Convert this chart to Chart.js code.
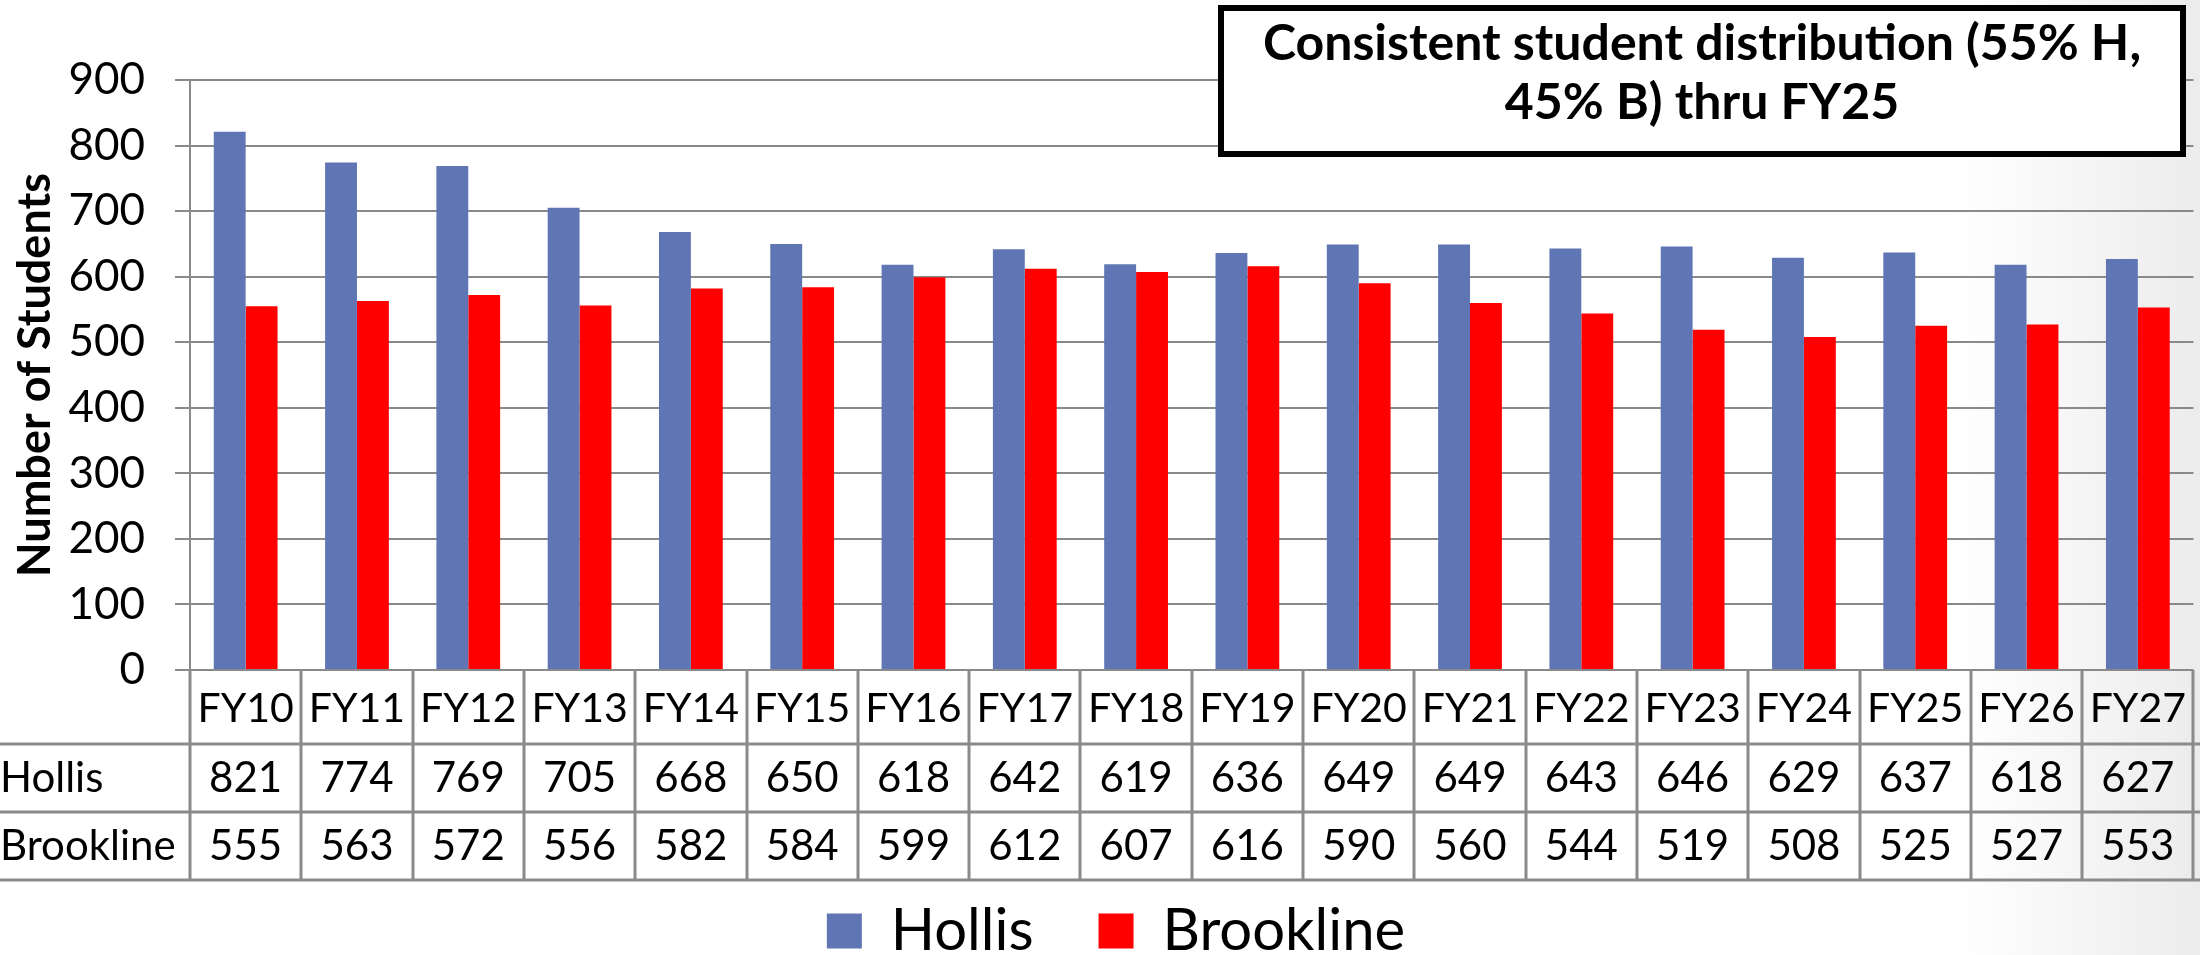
<!DOCTYPE html>
<html>
<head>
<meta charset="utf-8">
<title>Student distribution FY10–FY27</title>
<script src="https://cdn.jsdelivr.net/npm/chart.js@4.4.1/dist/chart.umd.min.js"></script>
<style>
  html, body { margin: 0; padding: 0; }
  body {
    width: 2200px; height: 955px; overflow: hidden; position: relative;
    background: linear-gradient(to right, #ffffff 0%, #ffffff 89%, #ececec 100%);
  }
  #chart { position: absolute; left: 0; top: 0; }
  #note {
    position: absolute; left: 1218px; top: 5px; width: 968px; height: 152px;
    box-sizing: border-box; border: 6px solid #000; background: #fff; color: #000;
    padding-bottom: 20px;
    font-family: Lato, "Open Sans", sans-serif; font-weight: 700; font-size: 50px; line-height: 59px;
    display: flex; align-items: center; justify-content: center; text-align: center;
  }
</style>
</head>
<body>
<canvas id="chart" width="2200" height="955"></canvas>
<div id="note">Consistent student distribution (55% H,<br>45% B) thru FY25</div>
<script>
// Enrollment by fiscal year
const categories = ['FY10', 'FY11', 'FY12', 'FY13', 'FY14', 'FY15', 'FY16', 'FY17', 'FY18',
                    'FY19', 'FY20', 'FY21', 'FY22', 'FY23', 'FY24', 'FY25', 'FY26', 'FY27'];
const hollis    = [821, 774, 769, 705, 668, 650, 618, 642, 619, 636, 649, 649, 643, 646, 629, 637, 618, 627];
const brookline = [555, 563, 572, 556, 582, 584, 599, 612, 607, 616, 590, 560, 544, 519, 508, 525, 527, 553];
const seriesNames = ['Hollis', 'Brookline'];
const yMin = 0, yMax = 900, yStep = 100;

const FONT = 'Lato, "Open Sans", sans-serif';
const GRID = '#8a8a8a';

// Data table under the category axis: one column per category, one row per series
const dataTable = {
  id: 'dataTable',
  afterDraw(chart) {
    const { ctx, chartArea, scales: { x } } = chart;
    const n = categories.length;
    const step = (x.right - x.left) / n;
    const rowHeights = [74, 68, 68];
    const ys = [chartArea.bottom];
    rowHeights.forEach(h => ys.push(ys[ys.length - 1] + h));
    const rows = [hollis, brookline];

    ctx.save();
    ctx.strokeStyle = GRID;
    ctx.lineWidth = 3;
    ctx.beginPath();
    for (let r = 1; r < ys.length; r++) {
      ctx.moveTo(0, ys[r]);
      ctx.lineTo(chart.width, ys[r]);
    }
    for (let k = 0; k <= n; k++) {
      const px = Math.round(x.left + k * step);
      ctx.moveTo(px, ys[0]);
      ctx.lineTo(px, ys[ys.length - 1]);
    }
    ctx.stroke();

    ctx.fillStyle = '#000';
    ctx.font = '42px ' + FONT;
    ctx.textBaseline = 'middle';
    rows.forEach((vals, r) => {
      const cy = (ys[r + 1] + ys[r + 2]) / 2;
      ctx.textAlign = 'left';
      ctx.fillText(seriesNames[r], 0, cy);
      ctx.textAlign = 'center';
      vals.forEach((v, i) => ctx.fillText(String(v), x.getPixelForValue(i), cy));
    });
    ctx.restore();
  }
};

new Chart(document.getElementById('chart'), {
  type: 'bar',
  data: {
    labels: categories,
    datasets: [
      { label: seriesNames[0], data: hollis, backgroundColor: '#6076B4', borderWidth: 0 },
      { label: seriesNames[1], data: brookline, backgroundColor: '#FF0000', borderWidth: 0 }
    ]
  },
  options: {
    responsive: false,
    animation: false,
    devicePixelRatio: 1,
    datasets: { bar: { categoryPercentage: 0.573, barPercentage: 1.0 } },
    layout: { padding: { top: 80, left: 32, right: 0, bottom: 0 } },
    plugins: {
      tooltip: { enabled: false },
      legend: {
        position: 'bottom',
        maxHeight: 118,
        labels: {
          boxWidth: 35, boxHeight: 35, padding: 65, color: '#000',
          font: { family: FONT, size: 58 }
        }
      }
    },
    scales: {
      x: {
        grid: { display: false, drawTicks: false },
        border: { display: false },
        ticks: { color: '#000', font: { family: FONT, size: 41 }, padding: 14, maxRotation: 0, autoSkip: false },
        afterFit(scale) { scale.height = 167; }
      },
      y: {
        min: yMin, max: yMax,
        ticks: { stepSize: yStep, color: '#000', font: { family: FONT, size: 44 }, padding: 30 },
        grid: { color: GRID, lineWidth: 2, tickLength: 15 },
        border: { color: GRID, width: 2 },
        title: {
          display: true, text: 'Number of Students', color: '#000',
          font: { family: FONT, size: 45, weight: 'bold' }, padding: { top: -24, bottom: 0 }
        },
        afterFit(scale) { scale.width = 158; }
      }
    }
  },
  plugins: [dataTable]
});
</script>
</body>
</html>
